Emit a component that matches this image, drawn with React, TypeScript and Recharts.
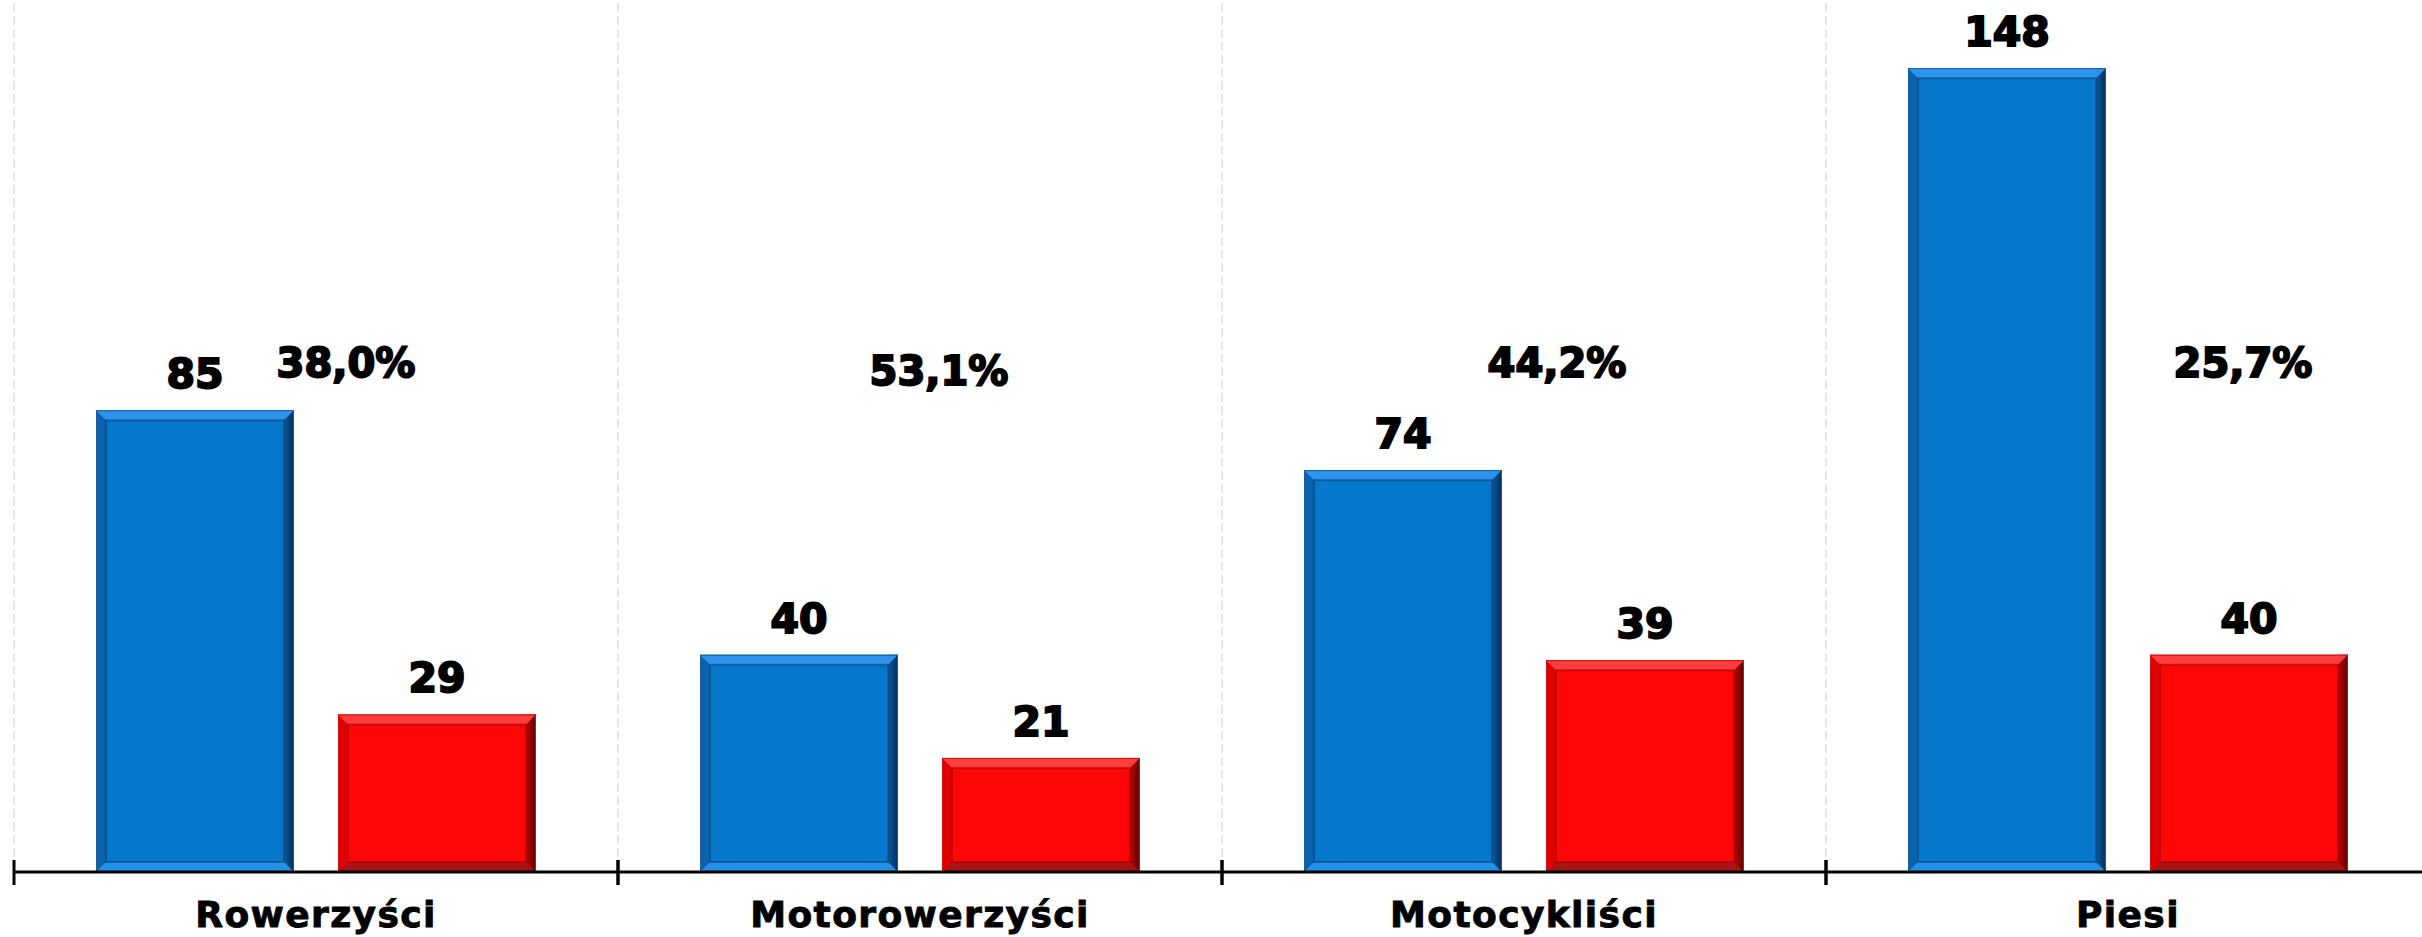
import { BarChart, Bar, XAxis, YAxis, CartesianGrid, LabelList } from "recharts"

const categories = ["Rowerzyści", "Motorowerzyści", "Motocykliści", "Piesi"]
const blueValues = [85, 40, 74, 148]
const redValues = [29, 21, 39, 40]
const shares = [38.0, 53.1, 44.2, 25.7]

const data = categories.map((name, i) => ({
	name,
	blue: blueValues[i],
	red: redValues[i],
	share: shares[i],
}))

// label placement tweaks for the percentage texts (px, relative to red bar centre)
const shareDx = [-91, -102, -88, -6]
const shareDy = [0, 8, 0, 0]
const SHARE_LEVEL = 93.7

const CAT_W = 604
const FONT = "'DejaVu Sans', sans-serif"

const blueBevel = {
	id: "b",
	face: "#0678cc",
	top: "#2d93ec",
	left: "#0a62ad",
	rightIn: "#0a5ba0",
	rightOut: "#012c58",
	bottom: "#2290e6",
	inner: "#0b3f70",
	edge: "#1a5d9c",
}
const redBevel = {
	id: "r",
	face: "#ff0707",
	top: "#ff3d3d",
	left: "#e00000",
	rightIn: "#c00000",
	rightOut: "#5a0000",
	bottom: "#a81414",
	inner: "#9a0000",
	edge: "#d01010",
}

function bevelShape(c: typeof blueBevel) {
	return (props: any) => {
		const { x, y, width: w, height: h } = props
		if (!h || h <= 0) return null
		const b = Math.min(10, w / 4, h / 4)
		const gid = `grad-${c.id}-${props.index}`
		return (
			<g>
				<defs>
					<linearGradient id={gid} x1="0" x2="1" y1="0" y2="0">
						<stop offset="0%" stopColor={c.rightIn} />
						<stop offset="100%" stopColor={c.rightOut} />
					</linearGradient>
				</defs>
				<rect x={x} y={y} width={w} height={h} fill={c.face} />
				<polygon points={`${x},${y} ${x + b},${y + b} ${x + b},${y + h - b} ${x},${y + h}`} fill={c.left} />
				<rect x={x + w - b} y={y} width={b} height={h} fill={`url(#${gid})`} />
				<polygon points={`${x},${y} ${x + w},${y} ${x + w - b},${y + b} ${x + b},${y + b}`} fill={c.top} />
				<polygon points={`${x},${y + h} ${x + w},${y + h} ${x + w - b},${y + h - b} ${x + b},${y + h - b}`} fill={c.bottom} />
				<rect x={x + b} y={y + b} width={w - 2 * b} height={h - 2 * b} fill="none" stroke={c.inner} strokeOpacity={0.55} strokeWidth={2} />
				<rect x={x + 0.5} y={y + 0.5} width={w - 1} height={h - 1} fill="none" stroke={c.edge} strokeWidth={1} />
			</g>
		)
	}
}

function CatTick(props: any) {
	const { x, y, payload } = props
	const half = CAT_W / 2
	return (
		<g>
			<line x1={x - half} x2={x - half} y1={y - 12} y2={y + 13} stroke="#000" strokeWidth={3} />
			<line x1={x + half} x2={x + half} y1={y - 12} y2={y + 13} stroke="#000" strokeWidth={3} />
			<text
				x={x}
				y={y + 55}
				textAnchor="middle"
				fontFamily={FONT}
				fontWeight="bold"
				fontSize={36}
				letterSpacing={1.4}
				fill="#000"
				stroke="#000"
				strokeWidth={0.9}
			>
				{payload.value}
			</text>
		</g>
	)
}

function renderShare(props: any) {
	const vb = props.viewBox || props
	const i = props.index
	const base = vb.y + vb.height
	const unit = vb.height / redValues[i]
	const cy = base - SHARE_LEVEL * unit + shareDy[i]
	const cx = vb.x + vb.width / 2 + shareDx[i]
	const txt = Number(props.value).toFixed(1).replace(".", ",") + "%"
	return (
		<text x={cx} y={cy + 14} textAnchor="middle" fontFamily={FONT} fontWeight="bold" fontSize={40} fill="#000" stroke="#000" strokeWidth={2}>
			{txt}
		</text>
	)
}

const valueLabelStyle = { fontFamily: FONT, fontWeight: "bold", fontSize: 41, fill: "#000", stroke: "#000", strokeWidth: 2 }

export default function App() {
	return (
		<div style={{ position: "absolute", left: 0, top: 0, width: 2422, height: 937, overflow: "hidden", background: "#fff" }}>
			<BarChart width={2430} height={937} data={data} margin={{ top: 3, right: 0, left: 14, bottom: 0 }} barCategoryGap={82} barGap={44}>
				<CartesianGrid
					horizontal={false}
					stroke="#d0d0d0"
					strokeDasharray="9 4"
					verticalCoordinatesGenerator={({ offset }: any) => [0, 1, 2, 3, 4].map((i) => offset.left + (i * offset.width) / 4)}
				/>
				<XAxis
					dataKey="name"
					height={65}
					tickSize={0}
					tickMargin={0}
					tickLine={false}
					axisLine={{ stroke: "#000", strokeWidth: 3 }}
					tick={<CatTick />}
					interval={0}
				/>
				<YAxis hide domain={[0, 160]} />
				<Bar dataKey="blue" isAnimationActive={false} shape={bevelShape(blueBevel)}>
					<LabelList dataKey="blue" position="top" offset={22} style={valueLabelStyle} />
				</Bar>
				<Bar dataKey="red" isAnimationActive={false} shape={bevelShape(redBevel)}>
					<LabelList dataKey="red" position="top" offset={22} style={valueLabelStyle} />
					<LabelList dataKey="share" content={renderShare} />
				</Bar>
			</BarChart>
		</div>
	)
}
